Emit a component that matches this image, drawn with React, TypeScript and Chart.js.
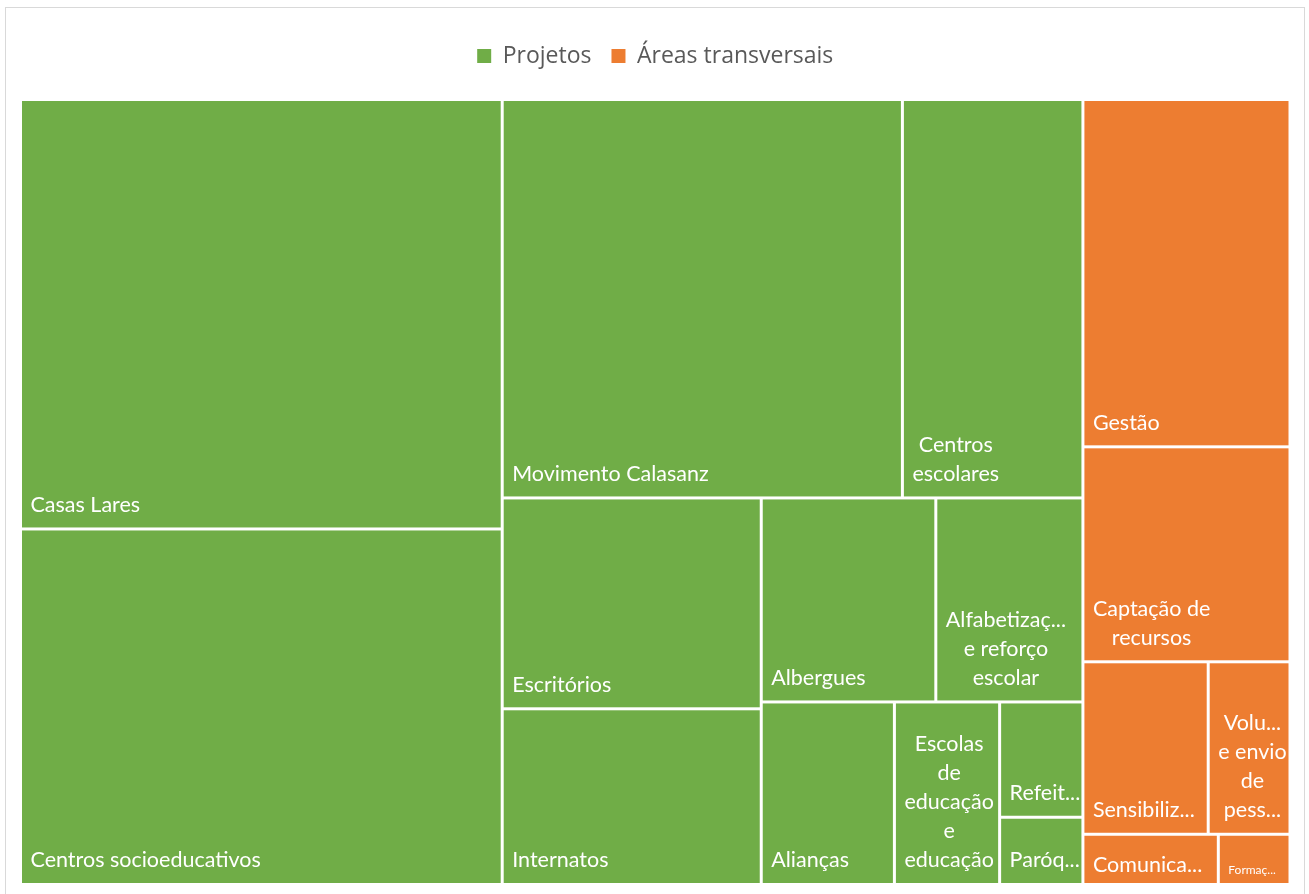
import React, { useEffect, useRef } from 'react';
import { Chart, registerables } from 'chart.js';

Chart.register(...registerables);

// ---- Data ----
const groupNames = ['Projetos', 'Áreas transversais'];
const groupColors = ['#70AD47', '#ED7D31'];

const projectLabels = [
  'Casas Lares',
  'Centros socioeducativos',
  'Movimento Calasanz',
  'Centros escolares',
  'Escritórios',
  'Internatos',
  'Albergues',
  'Alfabetização e reforço escolar',
  'Alianças',
  'Escolas de educação e educação',
  'Refeitórios',
  'Paróquias',
];
const projectValues = [206.8, 171.2, 159.4, 71.9, 54.6, 45.5, 35.6, 30.0, 24.3, 19.2, 9.6, 5.6];

const areaLabels = [
  'Gestão',
  'Captação de recursos',
  'Sensibilização',
  'Voluntariado e envio de pessoal',
  'Comunicação',
  'Formação',
];
const areaValues = [71.9, 44.5, 21.6, 14.1, 6.8, 3.6];

const LABEL_FONT = 'Lato, sans-serif';
const LEGEND_FONT = '"Open Sans", sans-serif';

type Rect = { x: number; y: number; w: number; h: number };

function worst(row: number[], side: number): number {
  const s = row.reduce((a, b) => a + b, 0);
  const mx = Math.max(...row);
  const mn = Math.min(...row);
  return Math.max((side * side * mx) / (s * s), (s * s) / (side * side * mn));
}

function squarify(values: number[], rect: Rect, tol = 1.1): Rect[] {
  const total = values.reduce((a, b) => a + b, 0);
  const k = (rect.w * rect.h) / total;
  const areas = values.map((v) => v * k);
  const out: Rect[] = [];
  let r = { ...rect };
  let i = 0;
  while (i < areas.length) {
    const side = Math.min(r.w, r.h);
    let row = [areas[i]];
    let j = i + 1;
    while (j < areas.length) {
      const cand = [...row, areas[j]];
      if (worst(cand, side) <= worst(row, side) * tol) {
        row = cand;
        j++;
      } else break;
    }
    const sum = row.reduce((a, b) => a + b, 0);
    if (r.w >= r.h) {
      const thick = sum / r.h;
      let y = r.y;
      row.forEach((a) => {
        const hh = a / thick;
        out.push({ x: r.x, y, w: thick, h: hh });
        y += hh;
      });
      r = { x: r.x + thick, y: r.y, w: r.w - thick, h: r.h };
    } else {
      const thick = sum / r.w;
      let x = r.x;
      row.forEach((a) => {
        const ww = a / thick;
        out.push({ x, y: r.y, w: ww, h: thick });
        x += ww;
      });
      r = { x: r.x, y: r.y + thick, w: r.w, h: r.h - thick };
    }
    i = j;
  }
  return out;
}

function fitText(ctx: CanvasRenderingContext2D, s: string, avail: number): string {
  if (ctx.measureText(s).width <= avail) return s;
  let n = s.length - 1;
  while (n > 1 && ctx.measureText(s.slice(0, n) + '...').width > avail) n--;
  return s.slice(0, n) + '...';
}

function drawLabel(ctx: CanvasRenderingContext2D, text: string, fx: number, fy: number, fw: number, fh: number) {
  let size = 21.5;
  let lineH = 29;
  let small = false;
  const padL = 8.5;
  let avail = fw * 0.88;
  ctx.font = `${size}px ${LABEL_FONT}`;
  const words = text.split(' ');
  if (ctx.measureText(words[0].slice(0, 4) + '...').width > avail) {
    size = 12;
    lineH = 18;
    small = true;
    avail = fw - 20;
    ctx.font = `${size}px ${LABEL_FONT}`;
  }
  const lines: string[] = [];
  let cur = '';
  for (const w of words) {
    const test = cur ? cur + ' ' + w : w;
    if (ctx.measureText(test).width <= avail) cur = test;
    else {
      if (cur) lines.push(cur);
      cur = w;
    }
  }
  if (cur) lines.push(cur);
  let shown = lines.map((l) => fitText(ctx, l, avail));
  const maxLines = Math.max(1, Math.floor((fh - 16) / lineH));
  if (shown.length > maxLines) {
    shown = shown.slice(0, maxLines);
    const last = shown[maxLines - 1];
    if (!last.endsWith('...')) shown[maxLines - 1] = fitText(ctx, last + '...', avail);
  }
  const blockW = Math.max(...shown.map((l) => ctx.measureText(l).width));
  const bottomOff = small ? 13 : Math.min(22.5, fh * 0.37);
  const cx = fx + padL + blockW / 2;
  ctx.fillStyle = '#ffffff';
  ctx.textAlign = 'center';
  ctx.textBaseline = 'middle';
  const n = shown.length;
  shown.forEach((l, idx) => {
    const y = fy + fh - bottomOff - (n - 1 - idx) * lineH;
    ctx.fillText(l, cx, y);
  });
}

const framePlugin = {
  id: 'frame',
  beforeDraw(chart: any) {
    const ctx = chart.ctx as CanvasRenderingContext2D;
    ctx.save();
    ctx.fillStyle = '#ffffff';
    ctx.fillRect(0, 0, chart.width, chart.height);
    ctx.strokeStyle = '#d9d9d9';
    ctx.lineWidth = 1;
    ctx.strokeRect(5.5, 7.5, 1299, 900);
    ctx.restore();
  },
};

const legendGapPlugin = {
  id: 'legendGap',
  afterInit(chart: any) {
    const legend = chart.legend;
    if (!legend || legend._gapWrapped) return;
    const orig = legend.fit;
    legend.fit = function () {
      orig.call(this);
      this.height += 22;
    };
    legend._gapWrapped = true;
  },
};

const treemapPlugin = {
  id: 'treemap',
  afterDatasetsDraw(chart: any) {
    const ctx = chart.ctx as CanvasRenderingContext2D;
    const xs = chart.scales.x;
    const ys = chart.scales.y;
    const left = xs.getPixelForValue(0);
    const right = xs.getPixelForValue(1);
    const top = ys.getPixelForValue(1);
    const bottom = ys.getPixelForValue(0);
    const area: Rect = { x: left, y: top, w: right - left, h: bottom - top };
    const groups = [
      { labels: projectLabels, values: projectValues },
      { labels: areaLabels, values: areaValues },
    ];
    const totals = groups.map((g) => g.values.reduce((a, b) => a + b, 0));
    const groupRects = squarify(totals, area);
    const g = 1.5;
    ctx.save();
    groups.forEach((grp, gi) => {
      const cells = squarify(grp.values, groupRects[gi]);
      cells.forEach((c, ci) => {
        const fx = c.x + g;
        const fy = c.y + g;
        const fw = c.w - 2 * g;
        const fh = c.h - 2 * g;
        ctx.fillStyle = groupColors[gi];
        ctx.fillRect(fx, fy, fw, fh);
        drawLabel(ctx, grp.labels[ci], fx, fy, fw, fh);
      });
    });
    ctx.restore();
  },
};

export default function App() {
  const ref = useRef<HTMLCanvasElement>(null);
  useEffect(() => {
    const chart = new Chart(ref.current as HTMLCanvasElement, {
      type: 'scatter',
      data: {
        datasets: groupNames.map((n, i) => ({
          label: n,
          data: [],
          backgroundColor: groupColors[i],
          borderColor: groupColors[i],
          borderWidth: 0,
          pointRadius: 0,
        })),
      },
      options: {
        responsive: false,
        animation: false,
        layout: { padding: { left: 20.5, right: 19, top: 24.5, bottom: 9.5 } },
        scales: {
          x: { type: 'linear', min: 0, max: 1, display: false },
          y: { type: 'linear', min: 0, max: 1, display: false },
        },
        plugins: {
          legend: {
            position: 'top',
            labels: {
              boxWidth: 14,
              boxHeight: 14,
              padding: 20,
              color: '#595959',
              font: { family: LEGEND_FONT, size: 23 },
            },
          },
          tooltip: { enabled: false },
        },
      } as any,
      plugins: [framePlugin, legendGapPlugin, treemapPlugin],
    });
    return () => chart.destroy();
  }, []);
  return (
    <div style={{ position: 'absolute', left: 0, top: 0, width: 1309, height: 894, background: '#ffffff' }}>
      <canvas ref={ref} width={1309} height={894} style={{ display: 'block', width: 1309, height: 894 }} />
    </div>
  );
}
